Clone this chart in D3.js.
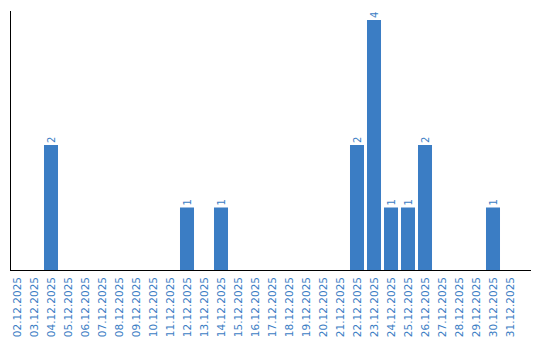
<!DOCTYPE html>
<html>
<head>
<meta charset="utf-8">
<script src="https://cdn.jsdelivr.net/npm/d3@7"></script>
<style>
  body { margin: 0; background: #fff; }
  text { font-family: "DejaVu Sans", Verdana, sans-serif; }
</style>
</head>
<body>
<svg id="chart"></svg>
<script>
// Daily counts, December 2025

var width = 540,
    height = 340;

var days = ["02.12.2025","03.12.2025","04.12.2025","05.12.2025","06.12.2025","07.12.2025",
  "08.12.2025","09.12.2025","10.12.2025","11.12.2025","12.12.2025","13.12.2025","14.12.2025",
  "15.12.2025","16.12.2025","17.12.2025","18.12.2025","19.12.2025","20.12.2025","21.12.2025",
  "22.12.2025","23.12.2025","24.12.2025","25.12.2025","26.12.2025","27.12.2025","28.12.2025",
  "29.12.2025","30.12.2025","31.12.2025"];
var counts = [0,0,2,0,0,0,0,0,0,0,1,0,1,0,0,0,0,0,0,0,2,4,1,1,2,0,0,0,1,0];

var blue = "#3b7dc4";

var svg = d3.select("#chart")
    .attr("width", width)
    .attr("height", height);

var x = d3.scaleBand()
    .domain(days)
    .range([8.5, 518.5])
    .paddingInner(0.176)
    .paddingOuter(0.088);

var y = d3.scaleLinear()
    .domain([0, d3.max(counts)])
    .range([270, 20]);

var data = days.map(function(d, i) { return {day: d, n: counts[i]}; });

// bars
svg.selectAll(".bar")
    .data(data.filter(function(d) { return d.n > 0; }))
    .enter().append("rect")
    .attr("class", "bar")
    .attr("x", function(d) { return x(d.day); })
    .attr("width", x.bandwidth())
    .attr("y", function(d) { return y(d.n); })
    .attr("height", function(d) { return y(0) - y(d.n); })
    .attr("fill", blue);

// value labels
svg.selectAll(".val")
    .data(data.filter(function(d) { return d.n > 0; }))
    .enter().append("text")
    .attr("class", "val")
    .attr("transform", function(d) {
      return `translate(${x(d.day) + x.bandwidth() / 2},${y(d.n) - 2}) rotate(-90)`;
    })
    .attr("dy", "0.35em")
    .attr("font-size", 10)
    .attr("fill", blue)
    .text(function(d) { return d.n; });

// axes lines
svg.append("line")
    .attr("x1", 10.5).attr("x2", 10.5)
    .attr("y1", 11).attr("y2", y(0))
    .attr("stroke", "#000");
svg.append("line")
    .attr("x1", 10).attr("x2", 531)
    .attr("y1", y(0) + 0.5).attr("y2", y(0) + 0.5)
    .attr("stroke", "#000");

// category labels
svg.selectAll(".tick-label")
    .data(days)
    .enter().append("text")
    .attr("class", "tick-label")
    .attr("transform", function(d) {
      return `translate(${x(d) + x.bandwidth() / 2},277) rotate(-90)`;
    })
    .attr("text-anchor", "end")
    .attr("dy", "0.35em")
    .attr("font-size", 10.5)
    .attr("fill", blue)
    .text(String);
</script>
</body>
</html>
